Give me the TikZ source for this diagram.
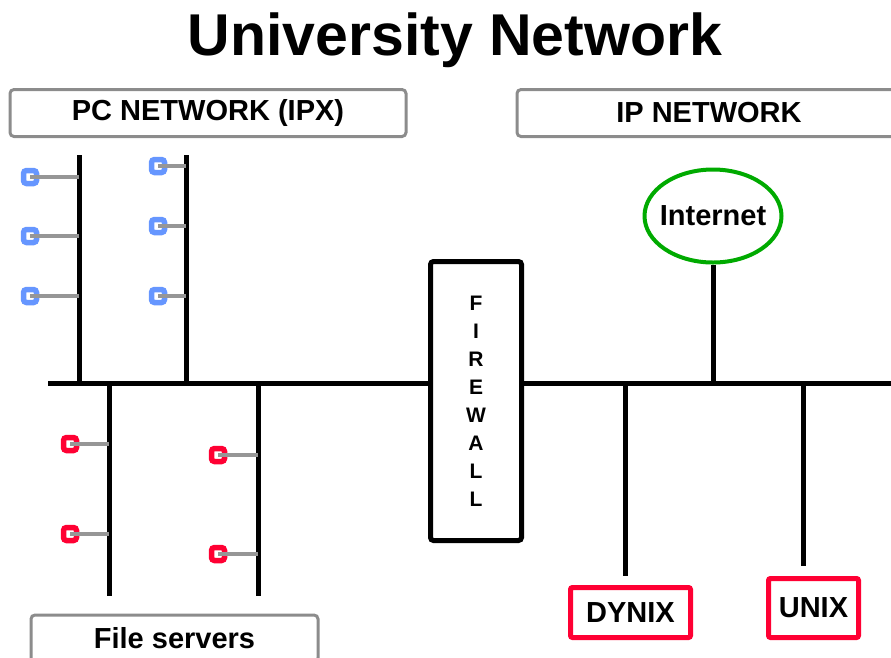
\documentclass[tikz,border=0pt]{standalone}
\usepackage{fontspec}
\setmainfont{Liberation Sans}
\usetikzlibrary{shapes.geometric}
\definecolor{NetGray}{RGB}{140,140,140}
\definecolor{StubGray}{RGB}{150,150,150}
\definecolor{PcBlue}{RGB}{102,150,255}
\definecolor{SrvRed}{RGB}{255,0,51}
\definecolor{NetGreen}{RGB}{0,170,0}
\begin{document}
\begin{tikzpicture}[x=1pt, y=-1pt, every node/.style={font=\bfseries\fontsize{29}{34}\selectfont}]

      \tikzstyle{Label}=[rectangle, draw=NetGray, line width=3pt, rounded corners=4pt, inner sep=0pt];
      \tikzstyle{Host}=[rectangle, draw=SrvRed, line width=5pt, rounded corners=2pt, inner sep=0pt];
      \tikzstyle{Bus}=[line width=5pt, draw=black];
      \tikzstyle{Stub}=[line width=3.5pt, draw=StubGray];
      \tikzstyle{PcBox}=[rectangle, draw=PcBlue, line width=5.5pt, rounded corners=3pt, minimum size=13pt, inner sep=0pt];
      \tikzstyle{SrvBox}=[rectangle, draw=SrvRed, line width=5.5pt, rounded corners=3pt, minimum size=13pt, inner sep=0pt];

        \useasboundingbox (0,0) rectangle (891,657);

        \node(Title) at (455,40) {\fontsize{59}{64}\selectfont University Network};

        \node[Label, minimum width=396pt, minimum height=47pt](PcNet) at (208,113) {PC NETWORK (IPX)};
        \node[Label, minimum width=384pt, minimum height=47pt](IpNet) at (709,113) {IP NETWORK};
        \node[Label, minimum width=287pt, minimum height=47pt](Servers) at (174.5,638.5) {File servers};

        \node[rectangle, draw=black, line width=5pt, rounded corners=3pt,
              minimum width=91pt, minimum height=279pt](Firewall) at (476,401) {
          \parbox{20pt}{ %
            \centering
            \fontsize{21}{28}\selectfont
            F\\I\\R\\E\\W\\A\\L\\L
          }};

        \node[ellipse, draw=NetGreen, line width=4pt, minimum width=137pt,
              minimum height=93pt, inner xsep=-7.5pt, inner ysep=0pt](Internet) at (713,216) {Internet};

        \node[Host, minimum width=120pt, minimum height=50pt](Dynix) at (630.5,612.5) {DYNIX};
        \node[Host, minimum width=90pt, minimum height=59pt](Unix) at (813.5,608) {UNIX};

        % backbone
        \coordinate(BackW) at (48,383);
        \coordinate(BackE) at (900,383);
        \draw[Bus] (BackW) -- (Firewall.west |- BackW);
        \draw[Bus] (Firewall.east |- BackE) -- (BackE);

        % PC segments
        \coordinate(BusA) at (79,155);
        \coordinate(BusB) at (186,155);
        \draw[Bus] (BusA) -- (BusA |- BackW);
        \draw[Bus] (BusB) -- (BusB |- BackW);

        % server segments
        \coordinate(BusC) at (109,596);
        \coordinate(BusD) at (258,596);
        \draw[Bus] (BusC |- BackW) -- (BusC);
        \draw[Bus] (BusD |- BackW) -- (BusD);

        % IP side
        \coordinate(TapDynix) at (625,383);
        \coordinate(TapUnix) at (803,383);
        \draw[Bus] (Internet.south) -- (Internet.south |- BackE);
        \draw[Bus] (TapDynix) -- (TapDynix |- 0,576);
        \draw[Bus] (TapUnix) -- (TapUnix |- 0,566);

        \foreach \y [count=\i] in {177,236,296} {
          \node[PcBox](PcA\i) at (30,\y) {};
          \draw[Stub] (PcA\i.center) -- (PcA\i.center -| BusA);
        }
        \foreach \y [count=\i] in {166,226,296} {
          \node[PcBox](PcB\i) at (158,\y) {};
          \draw[Stub] (PcB\i.center) -- (PcB\i.center -| BusB);
        }
        \foreach \y [count=\i] in {444,534} {
          \node[SrvBox](SrvC\i) at (70,\y) {};
          \draw[Stub] (SrvC\i.center) -- (SrvC\i.center -| BusC);
        }
        \foreach \y [count=\i] in {455,554} {
          \node[SrvBox](SrvD\i) at (218,\y) {};
          \draw[Stub] (SrvD\i.center) -- (SrvD\i.center -| BusD);
        }

    \end{tikzpicture}
\end{document}
